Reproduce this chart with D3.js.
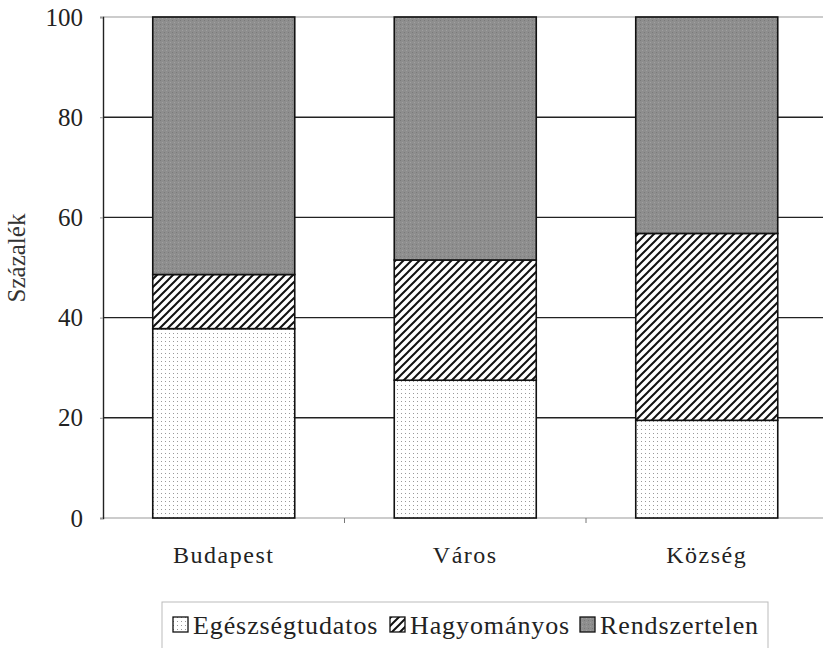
<!DOCTYPE html>
<html><head><meta charset="utf-8">
<script src="https://cdn.jsdelivr.net/npm/d3@7"></script>
<style>body{margin:0;background:#fff}svg{display:block}</style>
</head><body>
<script>
const categories = ["Budapest", "Város", "Község"];
const seriesNames = ["Egészségtudatos", "Hagyományos", "Rendszertelen"];
const egeszseg = [37.8, 27.5, 19.5];
const hagyomanyos = [10.8, 24.0, 37.3];
const rendszertelen = [51.4, 48.5, 43.2];
const yTicks = [0, 20, 40, 60, 80, 100];

const W = 823, H = 648;
const svg = d3.select("body").append("svg").attr("width", W).attr("height", H);
const defs = svg.append("defs");
// dots
const pd = defs.append("pattern").attr("id", "dots").attr("patternUnits", "userSpaceOnUse").attr("width", 4).attr("height", 4);
pd.append("rect").attr("width", 4).attr("height", 4).attr("fill", "#fff");
pd.append("rect").attr("x", 1).attr("y", 1).attr("width", 1).attr("height", 1).attr("fill", "#999");
// hatch
const ph = defs.append("pattern").attr("id", "hatch").attr("patternUnits", "userSpaceOnUse").attr("width", 8).attr("height", 8);
ph.append("rect").attr("width", 8).attr("height", 8).attr("fill", "#fff");
ph.append("path").attr("d", "M-2,2 L2,-2 M0,8 L8,0 M6,10 L10,6").attr("stroke", "#111").attr("stroke-width", 2);
// gray texture
const pg = defs.append("pattern").attr("id", "gray").attr("patternUnits", "userSpaceOnUse").attr("width", 4).attr("height", 4);
pg.append("rect").attr("width", 4).attr("height", 4).attr("fill", "#8e8e8e");
pg.append("rect").attr("x", 0).attr("y", 0).attr("width", 1).attr("height", 1).attr("fill", "#7a7a7a");
pg.append("rect").attr("x", 2).attr("y", 2).attr("width", 1).attr("height", 1).attr("fill", "#a0a0a0");
const fills = ["url(#dots)", "url(#hatch)", "url(#gray)"];

const plotLeft = 103, plotTop = 17, plotBottom = 518, bandW = 241.5;
const x = d3.scaleBand().domain(categories).range([plotLeft, plotLeft + 3 * bandW]).paddingInner(0.412).paddingOuter(0.206);
const y = d3.scaleLinear().domain([0, 100]).range([plotBottom, plotTop]);

const font = "'Liberation Serif', 'DejaVu Serif', serif";

// gridlines
svg.append("g").selectAll("line").data(yTicks).join("line")
  .attr("x1", plotLeft).attr("x2", W).attr("y1", d => y(d)).attr("y2", d => y(d))
  .attr("stroke", d => (d === 0 || d === 100) ? "#999" : "#222")
  .attr("stroke-width", d => (d === 0 || d === 100) ? 1.2 : 1.4);

// y axis
const yAxis = d3.axisLeft(y).tickValues(yTicks).tickSize(3).tickPadding(17);
const ga = svg.append("g").attr("transform", `translate(${plotLeft},0)`).call(yAxis);
ga.select(".domain").attr("stroke", "#222").attr("stroke-width", 1.4);
ga.selectAll(".tick line").attr("stroke", "#999");
ga.selectAll("text").style("font-family", font).style("font-size", "25px").attr("fill", "#222");

// x axis
const xAxis = d3.axisBottom(x).tickSize(0).tickPadding(28);
const gx = svg.append("g").attr("transform", `translate(0,${plotBottom})`).call(xAxis);
gx.select(".domain").remove();
gx.selectAll("text").style("font-family", font).style("font-size", "24px").style("letter-spacing", "1.5px").attr("fill", "#222");
// category separator ticks
svg.append("g").selectAll("line").data(categories.slice(1)).join("line")
  .attr("x1", d => x(d) - x.step() * x.paddingInner() / 2).attr("x2", d => x(d) - x.step() * x.paddingInner() / 2)
  .attr("y1", plotBottom).attr("y2", plotBottom + 5).attr("stroke", "#777");

// stacked bars
const rows = categories.map((c, i) => ({cat: c, s0: egeszseg[i], s1: hagyomanyos[i], s2: rendszertelen[i]}));
const stack = d3.stack().keys(["s0", "s1", "s2"])(rows);
svg.append("g").selectAll("g").data(stack).join("g").attr("fill", (d, i) => fills[i])
  .selectAll("rect").data(d => d).join("rect")
  .attr("x", d => x(d.data.cat)).attr("width", x.bandwidth())
  .attr("y", d => y(d[1])).attr("height", d => y(d[0]) - y(d[1]))
  .attr("stroke", "#111").attr("stroke-width", 1.6);

// y title
svg.append("text").attr("transform", "translate(25,258) rotate(-90)").attr("text-anchor", "middle")
  .style("font-family", font).style("font-size", "25px").attr("fill", "#333").text("Százalék");

// legend
const lg = svg.append("g");
lg.append("rect").attr("x", 162).attr("y", 602).attr("width", 606).attr("height", 60)
  .attr("fill", "#fff").attr("stroke", "#bbb").attr("stroke-width", 1);
const lx = [173, 390, 580];
seriesNames.forEach((n, i) => {
  lg.append("rect").attr("x", lx[i]).attr("y", 617).attr("width", 15).attr("height", 15)
    .attr("fill", fills[i]).attr("stroke", "#111").attr("stroke-width", 1.3);
  lg.append("text").attr("x", lx[i] + 20).attr("y", 634)
    .style("font-family", font).style("font-size", "26px").style("letter-spacing", "0.9px")
    .attr("fill", "#222").text(n);
});
</script>
</body></html>
